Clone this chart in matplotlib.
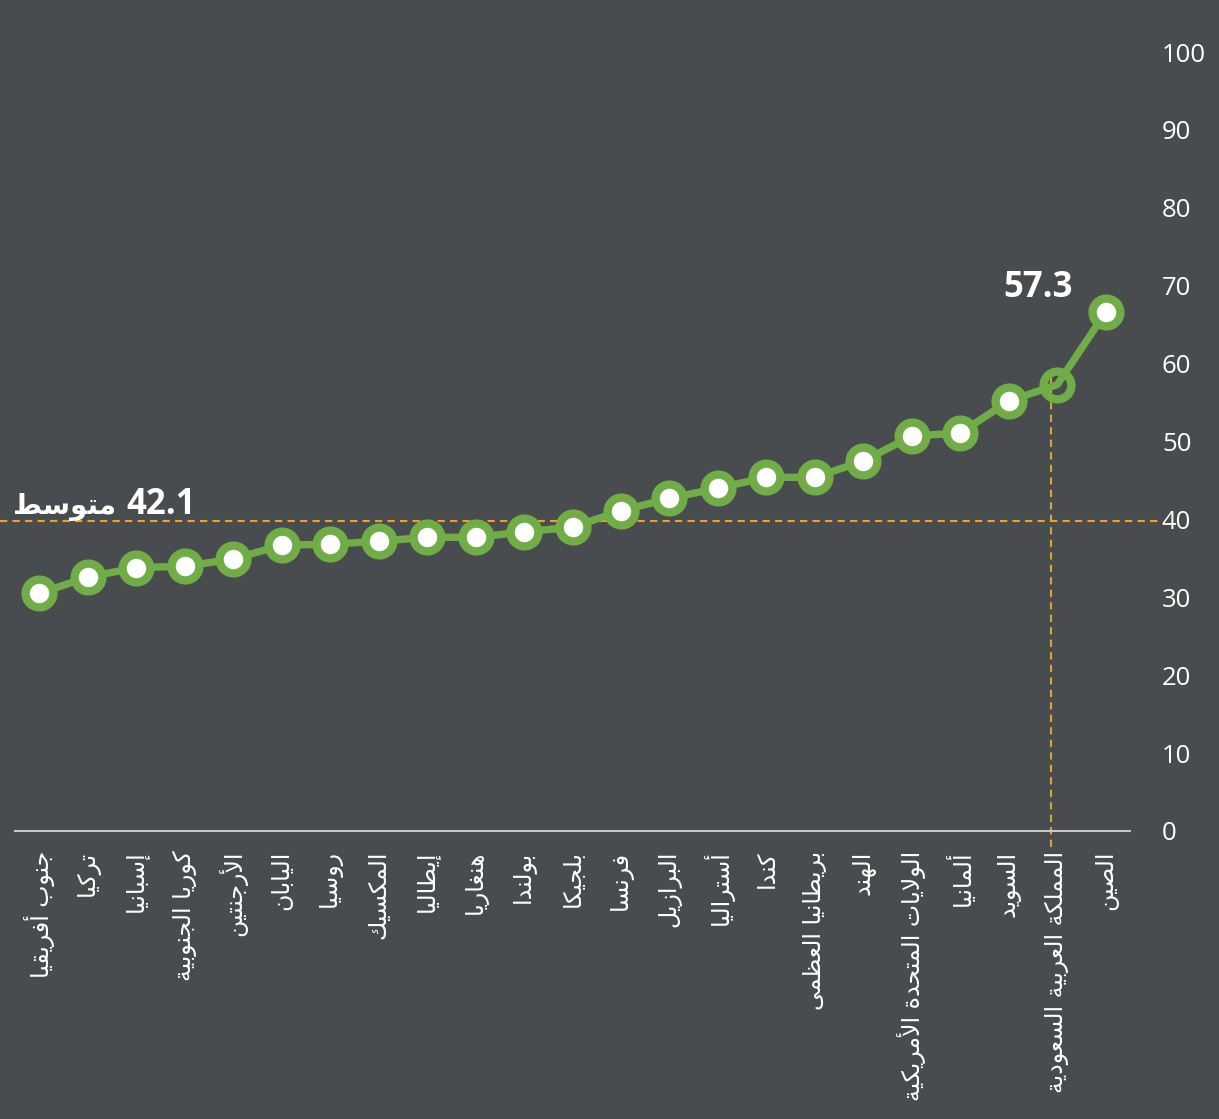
import numpy as np
import matplotlib
matplotlib.use("Agg")
import matplotlib.pyplot as plt
from matplotlib.transforms import blended_transform_factory

# data
countries = ['جنوب أفريقيا', 'تركيا', 'إسبانيا', 'كوريا الجنوبية', 'الأرجنتين',
             'اليابان', 'روسيا', 'المكسيك', 'إيطاليا', 'هنغاريا', 'بولندا',
             'بلجيكا', 'فرنسا', 'البرازيل', 'أستراليا', 'كندا',
             'بريطانيا العظمى', 'الهند', 'الولايات المتحدة الأمريكية', 'ألمانيا',
             'السويد', 'المملكة العربية السعودية', 'الصين']
values = [30.5, 32.6, 33.8, 34.0, 34.9, 36.7, 36.8, 37.2, 37.7, 37.7, 38.4,
          39.0, 41.1, 42.7, 44.0, 45.4, 45.4, 47.5, 50.7, 51.1, 55.2, 57.3, 66.6]
yticks = [0, 10, 20, 30, 40, 50, 60, 70, 80, 90, 100]
avg_line = 39.8
avg_word = 'متوسط'
avg_text = '42.1'
highlight = 'المملكة العربية السعودية'
highlight_text = '57.3'

BG = '#494c4e'
GREEN = '#70ad47'
ORANGE = '#f2a022'
GOLD = '#d9a62c'

# --- minimal arabic shaping (no arabic_reshaper / bidi available) ---
FORMS = {
    'ا': (0xFE8D, 'R'), 'أ': (0xFE83, 'R'), 'إ': (0xFE87, 'R'), 'آ': (0xFE81, 'R'),
    'ب': (0xFE8F, 'D'), 'ة': (0xFE93, 'R'), 'ت': (0xFE95, 'D'), 'ث': (0xFE99, 'D'),
    'ج': (0xFE9D, 'D'), 'ح': (0xFEA1, 'D'), 'خ': (0xFEA5, 'D'), 'د': (0xFEA9, 'R'),
    'ذ': (0xFEAB, 'R'), 'ر': (0xFEAD, 'R'), 'ز': (0xFEAF, 'R'), 'س': (0xFEB1, 'D'),
    'ش': (0xFEB5, 'D'), 'ص': (0xFEB9, 'D'), 'ض': (0xFEBD, 'D'), 'ط': (0xFEC1, 'D'),
    'ظ': (0xFEC5, 'D'), 'ع': (0xFEC9, 'D'), 'غ': (0xFECD, 'D'), 'ف': (0xFED1, 'D'),
    'ق': (0xFED5, 'D'), 'ك': (0xFED9, 'D'), 'ل': (0xFEDD, 'D'), 'م': (0xFEE1, 'D'),
    'ن': (0xFEE5, 'D'), 'ه': (0xFEE9, 'D'), 'و': (0xFEED, 'R'), 'ى': (0xFEEF, 'R'),
    'ي': (0xFEF1, 'D'),
}
LAM_ALEF = {'آ': 0xFEF5, 'أ': 0xFEF7, 'إ': 0xFEF9, 'ا': 0xFEFB}


def shape(text):
    toks = []
    i = 0
    while i < len(text):
        c = text[i]
        if c == 'ل' and i + 1 < len(text) and text[i + 1] in LAM_ALEF:
            toks.append(('LA', LAM_ALEF[text[i + 1]]))
            i += 2
        else:
            toks.append((c, None))
            i += 1

    def jtype(t):
        if t[0] == 'LA':
            return 'R'
        return FORMS[t[0]][1] if t[0] in FORMS else None

    out = []
    for k, t in enumerate(toks):
        jt = jtype(t)
        if jt is None:
            out.append(t[0])
            continue
        prev = jtype(toks[k - 1]) if k > 0 else None
        nxt = jtype(toks[k + 1]) if k + 1 < len(toks) else None
        jp = prev == 'D'
        jn = jt == 'D' and nxt is not None
        base = t[1] if t[0] == 'LA' else FORMS[t[0]][0]
        if jp and jn:
            cp = base + 3
        elif jp:
            cp = base + 1
        elif jn:
            cp = base + 2
        else:
            cp = base
        out.append(chr(cp))
    return ''.join(out)[::-1]


plt.rcParams['font.family'] = ['Open Sans', 'DejaVu Sans']

W, H = 1219, 1119
fig = plt.figure(figsize=(W / 100, H / 100), dpi=100, facecolor=BG)
ax = fig.add_axes([15 / W, 1 - 831 / H, (1130 - 15) / W, (831 - 52) / H])
ax.set_facecolor(BG)

x = np.arange(len(countries))
hi = countries.index(highlight)

ax.plot(x, values, color=GREEN, lw=5.3, zorder=3, solid_capstyle='round')
mask = x != hi
ax.plot(x[mask], np.array(values)[mask], 'o', ms=20, mfc='white', mec=GREEN,
        mew=6, zorder=4, ls='none')
ax.plot(x[hi], values[hi], 'o', ms=20, mfc='none', mec=GREEN, mew=6, zorder=4)

# average line (runs past the axes on both sides)
tr = blended_transform_factory(fig.transFigure, ax.transData)
ax.plot([0, 1160 / W], [avg_line, avg_line], color=ORANGE, lw=1.5,
        ls=(0, (3.5, 2.5)), transform=tr, clip_on=False, zorder=2)
fig.text(13 / W, 1 - 514 / H, shape(avg_word), color='white',
         fontsize=20, fontweight='bold', ha='left', va='baseline',
         family='DejaVu Sans')
fig.text(196 / W, 1 - 514 / H, avg_text, color='white',
         fontsize=25, fontweight='bold', ha='right', va='baseline')

# highlight guide
ax.plot([x[hi] - 0.12, x[hi] - 0.12], [-2.0, values[hi] + 1.2], color=GOLD,
        lw=1.5, ls=(0, (3.5, 2.5)), clip_on=False, zorder=2)
ax.annotate(highlight_text, (x[hi], values[hi]), xytext=(-19, 97),
            textcoords='offset pixels', ha='center', va='center',
            color='white', fontsize=25, fontweight='bold')

ax.set_xlim(-0.5, len(countries) - 0.5)
ax.set_ylim(0, 100)
ax.yaxis.tick_right()
ax.set_yticks(yticks)
ax.set_yticklabels([str(v) for v in yticks], color='white', fontsize=18.5)
ax.tick_params(axis='y', length=0, pad=23)
ax.set_xticks(x)
ax.set_xticklabels([shape(c) for c in countries], rotation=90, ha='center',
                   va='top', color='white', fontsize=17, family='DejaVu Sans')
ax.tick_params(axis='x', length=0, pad=14)

for s in ['top', 'left', 'right']:
    ax.spines[s].set_visible(False)
ax.spines['bottom'].set_color('#c8c8c8')
ax.spines['bottom'].set_linewidth(1.5)

fig.savefig('out.png', dpi=100, facecolor=BG)
